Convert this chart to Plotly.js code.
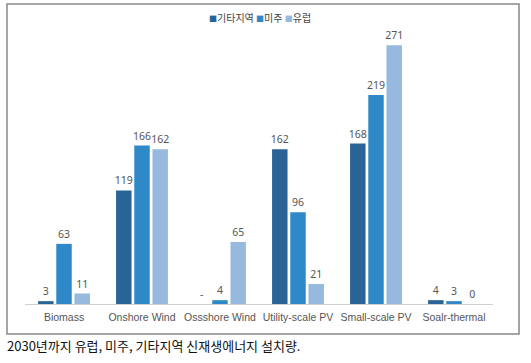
<!DOCTYPE html>
<html><head><meta charset="utf-8">
<script src="https://cdn.plot.ly/plotly-3.0.1.min.js"></script>
<style>html,body{margin:0;padding:0;background:#fff;}#chart{width:531px;height:363px;}</style>
</head><body><div id="chart"></div>
<script>
const categories = ["Biomass", "Onshore Wind", "Ossshore Wind", "Utility-scale PV", "Small-scale PV", "Soalr-thermal"];
const seriesNames = ["기타지역", "미주", "유럽"];
const otherValues = [3, 119, 0, 162, 168, 4];
const otherLabels = ["3", "119", "-", "162", "168", "4"];
const americaValues = [63, 166, 4, 96, 219, 3];
const europeValues = [11, 162, 65, 21, 271, 0];
const colors = ["#2a6496", "#2f88c8", "#97b9dd"];
const caption = "2030년까지 유럽, 미주, 기타지역 신재생에너지 설치량.";

const font = "Noto Sans, Noto Sans CJK KR, sans-serif";
const mk = (name, vals, labels, color) => ({
  type: "bar", name: name, x: categories, y: vals,
  text: labels, textposition: "outside", cliponaxis: false, constraintext: "none",
  textfont: {size: 10.5, color: "#555", family: font},
  marker: {color: color}, hoverinfo: "none"
});
const data = [
  mk(seriesNames[0], otherValues, otherLabels, colors[0]),
  mk(seriesNames[1], americaValues, americaValues.map(String), colors[1]),
  mk(seriesNames[2], europeValues, europeValues.map(String), colors[2])
];
const legendText = seriesNames.map((n, i) =>
  `<span style="color:${colors[i]};font-size:8px">■</span>${n}`).join(" ");
const layout = {
  width: 531, height: 363,
  margin: {l: 25, r: 38, t: 30, b: 59},
  paper_bgcolor: "#fff", plot_bgcolor: "#fff",
  barmode: "group", bargap: 0.3, bargroupgap: 0.15,
  font: {family: font, size: 11, color: "#555"},
  uniformtext: {mode: "show", minsize: 10},
  xaxis: {showgrid: false, showline: true, linecolor: "#d0d0d0", linewidth: 1, tickangle: 0,
          ticks: "", ticklabelstandoff: 3,
          tickfont: {size: 10.5, color: "#555", family: "Liberation Sans, Arial, sans-serif"}, fixedrange: true},
  yaxis: {range: [0, 287], visible: false, showgrid: false, zeroline: false, fixedrange: true},
  showlegend: false,
  shapes: [{type: "rect", xref: "paper", yref: "paper",
            x0: -0.0385, x1: 1.0556, y0: -0.1095, y1: 1.0949,
            line: {color: "#888", width: 1.5}, fillcolor: "rgba(0,0,0,0)", layer: "below"}],
  annotations: [
    {text: caption, xref: "paper", yref: "paper", x: -0.0427, y: -0.153,
     xanchor: "left", yanchor: "middle", showarrow: false,
     font: {size: 13, color: "#111", family: "Noto Sans CJK KR, sans-serif"}},
    {text: legendText, xref: "paper", yref: "paper", x: 0.502, y: 1.044,
     xanchor: "center", yanchor: "middle", showarrow: false,
     font: {size: 10, color: "#444", family: "Noto Sans CJK KR, sans-serif"}}
  ]
};
Plotly.newPlot("chart", data, layout, {displayModeBar: false, staticPlot: true});
</script></body></html>
